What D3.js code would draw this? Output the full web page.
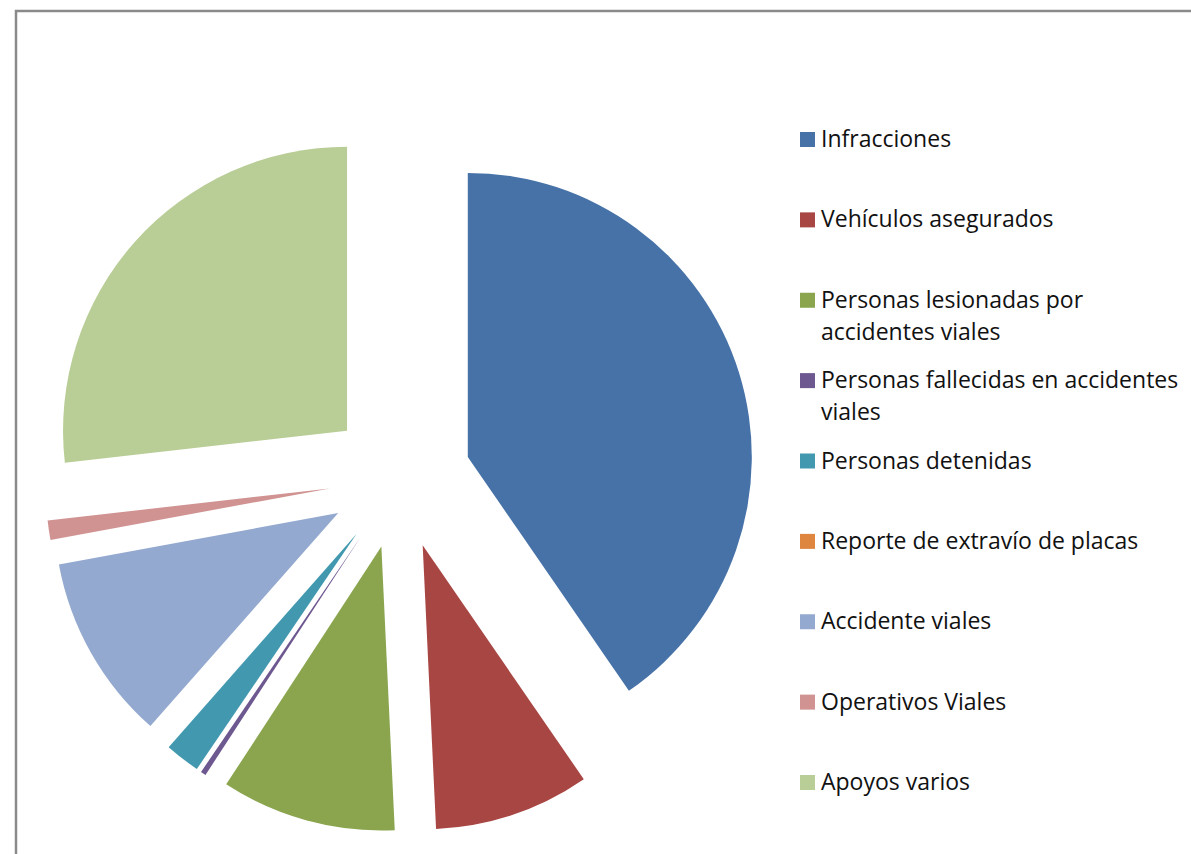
<!DOCTYPE html>
<html>
<head>
<meta charset="utf-8">
<script src="https://cdn.jsdelivr.net/npm/d3@7"></script>
<style>
html,body{margin:0;padding:0;background:#fff;}
svg{display:block;}
</style>
</head>
<body>
<svg id="chart" width="1191" height="854"></svg>
<script>
const categories = [
  "Infracciones",
  "Vehículos asegurados",
  "Personas lesionadas por accidentes viales",
  "Personas fallecidas en accidentes viales",
  "Personas detenidas",
  "Reporte de extravío de placas",
  "Accidente viales",
  "Operativos Viales",
  "Apoyos varios"
];
const legendLines = [
  ["Infracciones"],
  ["Vehículos asegurados"],
  ["Personas lesionadas por", "accidentes viales"],
  ["Personas fallecidas en accidentes", "viales"],
  ["Personas detenidas"],
  ["Reporte de extravío de placas"],
  ["Accidente viales"],
  ["Operativos Viales"],
  ["Apoyos varios"]
];
const values = [40.4, 8.85, 9.95, 0.3, 2.0, 0, 10.6, 1.1, 26.8];
const colors = ["#4672A8", "#A84643", "#8AA54E", "#6E5890", "#4299AF", "#DE8640", "#93A9CF", "#D09392", "#B9CD96"];

const svg = d3.select("#chart");

// chart frame
svg.append("rect")
  .attr("x", 16).attr("y", 11)
  .attr("width", 1300).attr("height", 1000)
  .attr("fill", "none")
  .attr("stroke", "#8a8a8a")
  .attr("stroke-width", 2.5);

const cx = 400, cy = 478, radius = 284, explode = 71;

const pie = d3.pie().sort(null).value(d => d.v).startAngle(0).endAngle(2 * Math.PI);
const arc = d3.arc().innerRadius(0).outerRadius(radius);
const data = categories.map((c, i) => ({c, v: values[i], color: colors[i]}));

const g = svg.append("g").attr("transform", `translate(${cx},${cy})`);
g.selectAll("path")
  .data(pie(data).filter(d => d.value > 0))
  .join("path")
  .attr("d", arc)
  .attr("fill", d => d.data.color)
  .attr("transform", d => {
    const mid = (d.startAngle + d.endAngle) / 2;
    return `translate(${explode * Math.sin(mid)},${-explode * Math.cos(mid)})`;
  });

// legend
const legendY = d3.scalePoint().domain(categories).range([139.5, 782.5]);
const lg = svg.append("g");
const items = lg.selectAll("g.item")
  .data(data)
  .join("g")
  .attr("class", "item")
  .attr("transform", d => `translate(800,${legendY(d.c)})`);
items.append("rect")
  .attr("x", 0).attr("y", -7.5)
  .attr("width", 15).attr("height", 15)
  .attr("fill", d => d.color);
items.each(function(d, i) {
  const t = d3.select(this).append("text")
    .attr("x", 21).attr("y", 7.5)
    .attr("font-family", "'Open Sans', Lato, sans-serif")
    .attr("font-size", 23)
    .attr("fill", "#111");
  legendLines[i].forEach((line, k) => {
    t.append("tspan").attr("x", 21).attr("dy", k === 0 ? 0 : 32).text(line);
  });
});
</script>
</body>
</html>
